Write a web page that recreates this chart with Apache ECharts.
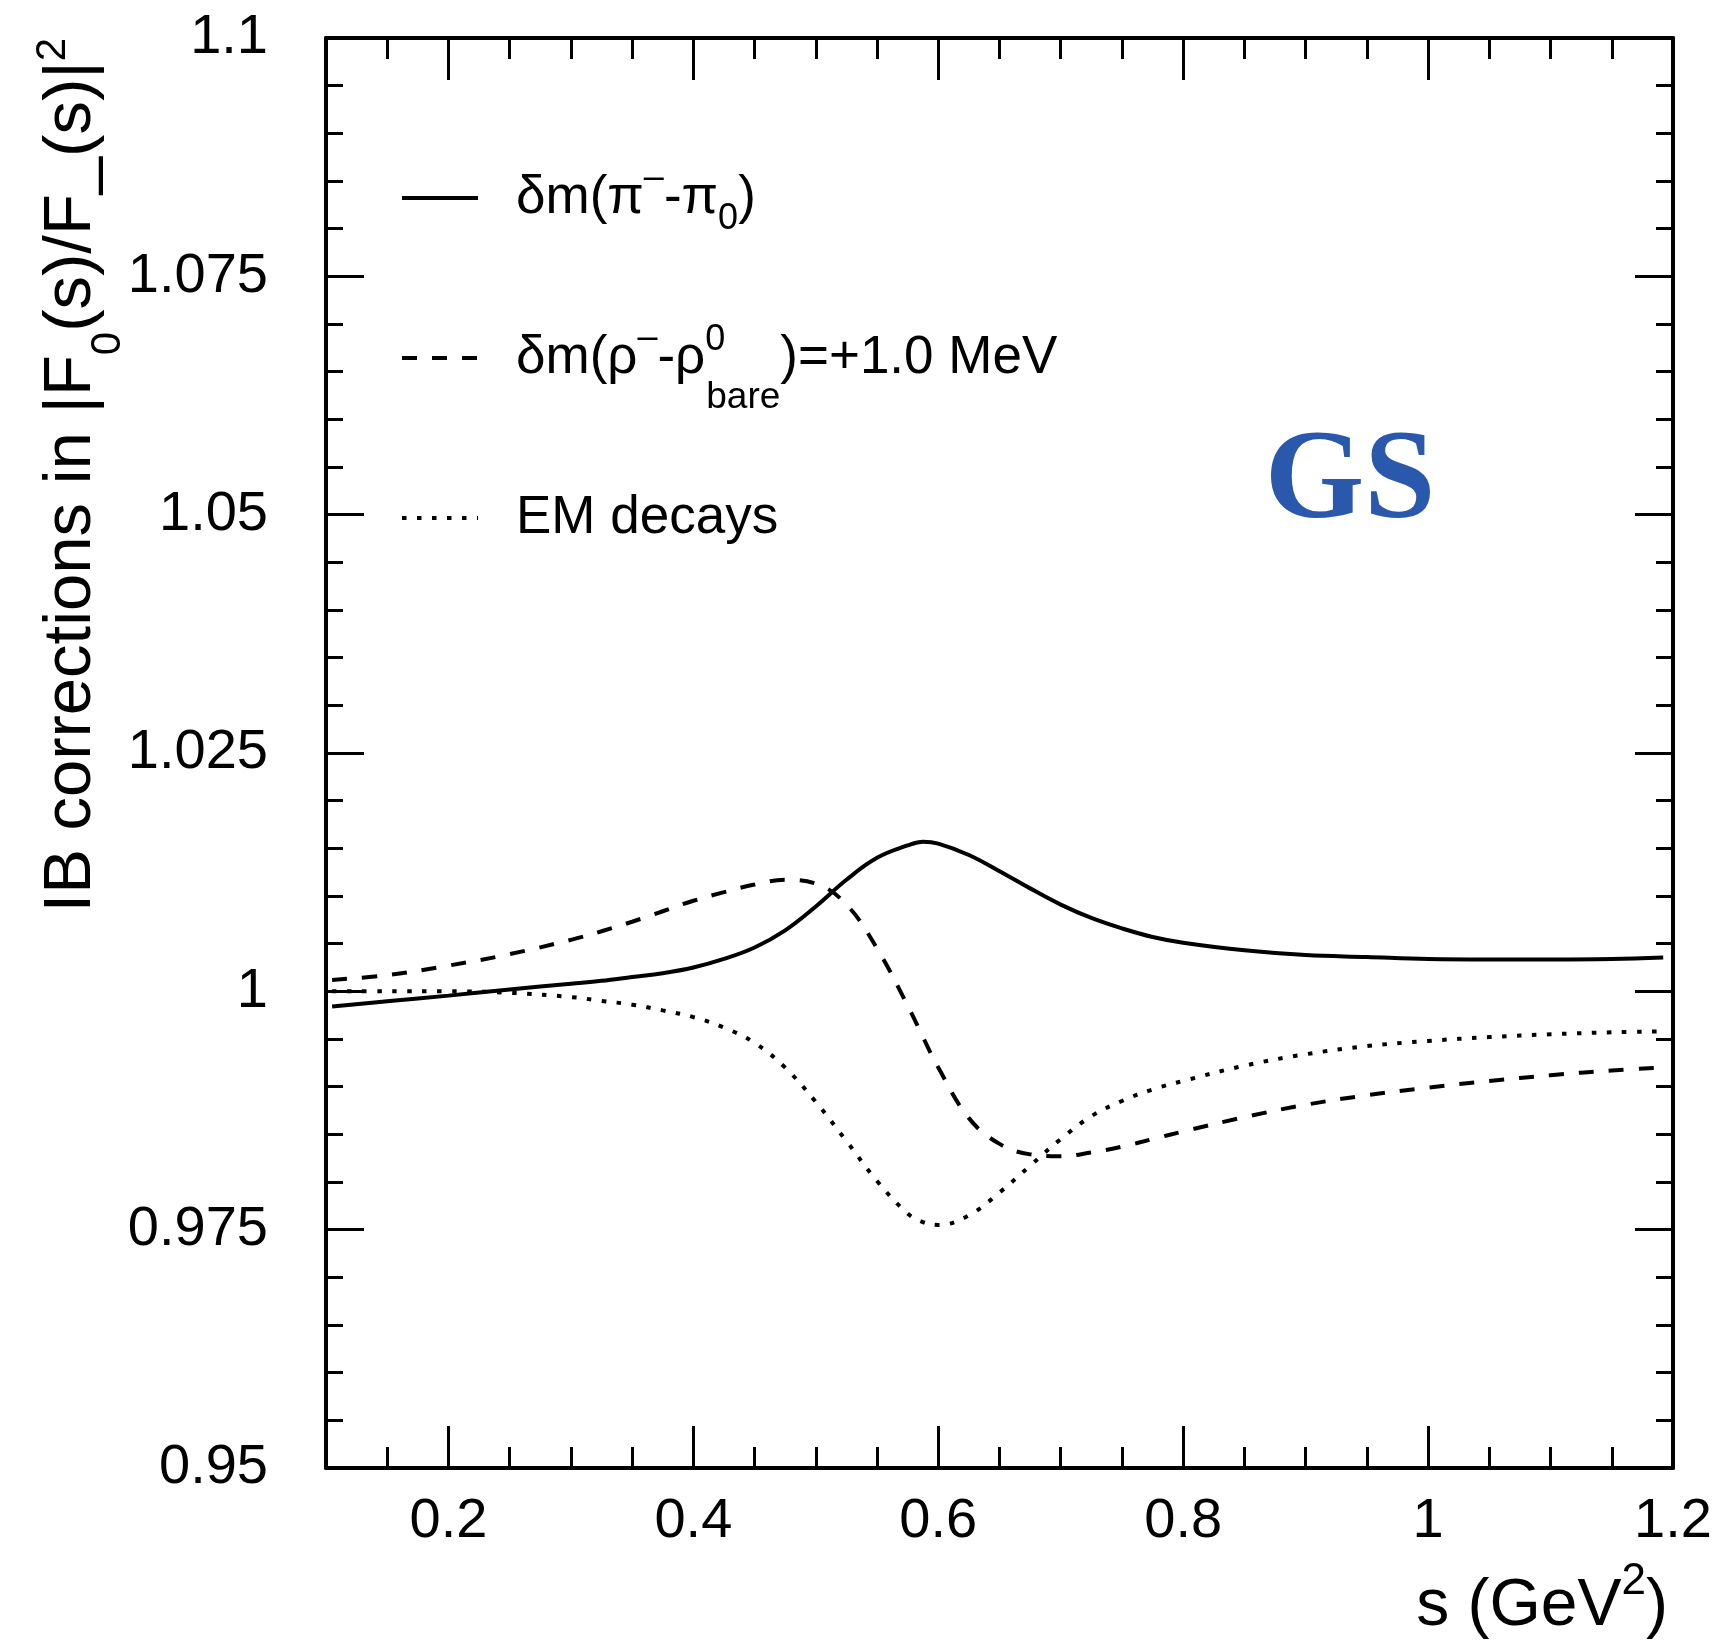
<!DOCTYPE html>
<html>
<head>
<meta charset="utf-8">
<title>IB corrections</title>
<script src="https://cdn.jsdelivr.net/npm/echarts@6/dist/echarts.min.js"></script>
<style>
  html, body { margin: 0; padding: 0; background: #ffffff; }
  #chart { width: 1720px; height: 1649px; }
</style>
</head>
<body>
<div id="chart"></div>
<script>
// s values (GeV^2) where the three corrections are sampled
const sValues = [0.105, 0.15, 0.2, 0.25, 0.3, 0.325, 0.35, 0.375, 0.4, 0.425, 0.45, 0.475, 0.5, 0.525, 0.55,
                 0.575, 0.5875, 0.6, 0.625, 0.65, 0.675, 0.7, 0.725, 0.75, 0.775, 0.8, 0.85, 0.9, 0.95, 1.0,
                 1.05, 1.1, 1.15, 1.192];

// pion mass difference
const piMassShift = [0.9984, 0.99895, 0.99955, 1.0002, 1.0008, 1.0011, 1.0015, 1.0019, 1.0025, 1.0034, 1.0046,
                     1.0064, 1.0089, 1.0117, 1.0140, 1.0153, 1.0157, 1.0155, 1.0143, 1.0126, 1.0108, 1.0091,
                     1.0077, 1.0066, 1.0057, 1.0051, 1.0043, 1.0038, 1.0036, 1.0034, 1.00335, 1.00335, 1.0034,
                     1.00355];

// rho mass difference, +1.0 MeV
const rhoMassShift = [1.0012, 1.0017, 1.0027, 1.0039, 1.0054, 1.0063, 1.0073, 1.0084, 1.0095, 1.0104, 1.0112,
                      1.0117, 1.0113, 1.0091, 1.0045, 0.9985, 0.9952, 0.9920, 0.9867, 0.9840, 0.9829, 0.9827,
                      0.9831, 0.9837, 0.9845, 0.9853, 0.9868, 0.9881, 0.9891, 0.9899, 0.9906, 0.9912, 0.9917,
                      0.9920];

// electromagnetic decays
const emDecays = [1.0000, 1.0000, 1.0000, 0.99985, 0.9994, 0.9990, 0.9986, 0.9980, 0.9973, 0.9962, 0.9946,
                  0.9920, 0.9884, 0.9843, 0.9801, 0.9767, 0.9758, 0.9755, 0.9765, 0.9789, 0.9817, 0.9845,
                  0.9869, 0.9885, 0.9897, 0.9906, 0.9922, 0.9934, 0.99425, 0.9948, 0.9952, 0.9955, 0.9957,
                  0.9958];

// axis ticks and their labels
const xMajorTicks = [0.2, 0.4, 0.6, 0.8, 1.0, 1.2];
const xTickLabels = ['0.2', '0.4', '0.6', '0.8', '1', '1.2'];
const xMinorTicks = [0.15, 0.25, 0.3, 0.35, 0.45, 0.5, 0.55, 0.65, 0.7, 0.75, 0.85, 0.9, 0.95, 1.05, 1.1, 1.15];
const yMajorTicks = [0.95, 0.975, 1.0, 1.025, 1.05, 1.075, 1.1];
const yTickLabels = ['0.95', '0.975', '1', '1.025', '1.05', '1.075', '1.1'];
const yMinorTicks = [0.955, 0.96, 0.965, 0.97, 0.98, 0.985, 0.99, 0.995, 1.005, 1.01, 1.015, 1.02,
                     1.03, 1.035, 1.04, 1.045, 1.055, 1.06, 1.065, 1.07, 1.08, 1.085, 1.09, 1.095];

// series names and their legend captions
const seriesNames = ['dm_pi', 'dm_rho', 'em'];
const legendCaptions = {
  dm_pi: '{sp| }δm(π{sup|–}-π{sub|0})',
  dm_rho: '{sp| }δm(ρ{sup|–}-ρ{supz|0}{bare|bare})=+1.0 MeV',
  em: '{sp| }EM decays'
};

const FONT = '"Liberation Sans", Arial, Helvetica, sans-serif';
const SERIF = '"Liberation Serif", "Times New Roman", serif';

function labelFor(ticks, labels) {
  return function (v) {
    for (let i = 0; i < ticks.length; i++) {
      if (Math.abs(ticks[i] - v) < 1e-9) return labels[i];
    }
    return '';
  };
}

function pairs(ys) {
  return sValues.map((s, i) => [s, ys[i]]);
}

const X_MIN = 0.1, X_MAX = 1.2, Y_MIN = 0.95, Y_MAX = 1.1;

function xAxisDef(position, ticks, len, withLine, withLabels) {
  return {
    type: 'value', position: position, min: X_MIN, max: X_MAX, gridIndex: 0,
    axisLine: { show: withLine, onZero: false, lineStyle: { color: '#000', width: 4 } },
    axisTick: { show: true, inside: true, length: len, customValues: ticks, lineStyle: { color: '#000', width: 3 } },
    axisLabel: withLabels ? {
      show: true, customValues: xMajorTicks, margin: 26, color: '#000',
      fontFamily: FONT, fontSize: 56, formatter: labelFor(xMajorTicks, xTickLabels)
    } : { show: false },
    splitLine: { show: false }
  };
}

function yAxisDef(position, ticks, len, withLine, withLabels) {
  return {
    type: 'value', position: position, min: Y_MIN, max: Y_MAX, gridIndex: 0,
    axisLine: { show: withLine, onZero: false, lineStyle: { color: '#000', width: 4 } },
    axisTick: { show: true, inside: true, length: len, customValues: ticks, lineStyle: { color: '#000', width: 3 } },
    axisLabel: withLabels ? {
      show: true, customValues: yMajorTicks, margin: 58, color: '#000',
      fontFamily: FONT, fontSize: 56, formatter: labelFor(yMajorTicks, yTickLabels)
    } : { show: false },
    splitLine: { show: false }
  };
}

const chart = echarts.init(document.getElementById('chart'), null, { renderer: 'canvas' });

const lineBase = { color: '#000', width: 4 };

chart.setOption({
  animation: false,
  backgroundColor: '#ffffff',
  color: ['#000', '#000', '#000'],
  grid: { left: 326, right: 47, top: 38, bottom: 181, containLabel: false },
  xAxis: [
    xAxisDef('bottom', xMajorTicks, 42, true, true),
    xAxisDef('bottom', xMinorTicks, 21, false, false),
    xAxisDef('top', xMajorTicks, 42, true, false),
    xAxisDef('top', xMinorTicks, 21, false, false)
  ],
  yAxis: [
    yAxisDef('left', yMajorTicks, 38, true, true),
    yAxisDef('left', yMinorTicks, 17, false, false),
    yAxisDef('right', yMajorTicks, 38, true, false),
    yAxisDef('right', yMinorTicks, 17, false, false)
  ],
  legend: {
    orient: 'vertical',
    left: 400,
    top: 138,
    padding: 0,
    itemWidth: 76,
    itemHeight: 14,
    itemGap: 40,
    selectedMode: false,
    data: seriesNames,
    formatter: name => legendCaptions[name],
    itemStyle: { opacity: 0 },
    lineStyle: { width: 4 },
    textStyle: {
      color: '#000', fontFamily: FONT, fontSize: 53, lineHeight: 120,
      rich: {
        sp: { width: 33, fontFamily: FONT, fontSize: 53, lineHeight: 120 },
        sup: { fontFamily: FONT, fontSize: 36, lineHeight: 36, padding: [0, 0, 40, 0] },
        sub: { fontFamily: FONT, fontSize: 36, lineHeight: 36, padding: [42, 0, 0, 0] },
        supz: { fontFamily: FONT, fontSize: 36, lineHeight: 36, width: 1, padding: [0, 0, 36, 0] },
        bare: { fontFamily: FONT, fontSize: 37, lineHeight: 37, padding: [80, 0, 0, 0] }
      }
    }
  },
  graphic: [
    {
      type: 'text', x: 72, y: 38, rotation: Math.PI / 2, silent: true,
      style: {
        text: 'IB corrections in |F{sub|0}(s)/F_(s)|{sup|2}',
        fontFamily: FONT, fontSize: 67, fill: '#000', align: 'right', verticalAlign: 'middle',
        lineHeight: 140,
        rich: {
          sub: { fontFamily: FONT, fontSize: 42, lineHeight: 42, fill: '#000', padding: [72, 0, 0, 0] },
          sup: { fontFamily: FONT, fontSize: 42, lineHeight: 42, fill: '#000', padding: [0, 0, 38, 0] }
        }
      }
    },
    {
      type: 'text', x: 1668, y: 1607, silent: true,
      style: {
        text: 's (GeV{sup|2})',
        fontFamily: FONT, fontSize: 66, fill: '#000', align: 'right', verticalAlign: 'middle',
        lineHeight: 120,
        rich: {
          sup: { fontFamily: FONT, fontSize: 44, lineHeight: 44, fill: '#000', padding: [0, 0, 50, 0] }
        }
      }
    },
    {
      type: 'text', x: 1350, y: 484, silent: true,
      style: {
        text: 'GS',
        fontFamily: SERIF, fontWeight: 'bold', fontSize: 128, fill: '#2a58ad',
        align: 'center', verticalAlign: 'middle'
      }
    }
  ],
  series: [
    {
      name: 'dm_pi', type: 'line', xAxisIndex: 0, yAxisIndex: 0,
      data: pairs(piMassShift), symbol: 'none', showSymbol: false,
      smooth: 0.4, clip: true,
      itemStyle: { color: '#000' },
      lineStyle: Object.assign({}, lineBase, { type: 'solid' })
    },
    {
      name: 'dm_rho', type: 'line', xAxisIndex: 0, yAxisIndex: 0,
      data: pairs(rhoMassShift), symbol: 'none', showSymbol: false,
      smooth: 0.4, clip: true,
      itemStyle: { color: '#000' },
      lineStyle: Object.assign({}, lineBase, { type: [15, 15], cap: 'butt' })
    },
    {
      name: 'em', type: 'line', xAxisIndex: 0, yAxisIndex: 0,
      data: pairs(emDecays), symbol: 'none', showSymbol: false,
      smooth: 0.4, clip: true,
      itemStyle: { color: '#000' },
      lineStyle: Object.assign({}, lineBase, { type: [4.5, 10.5], cap: 'butt' })
    }
  ]
});
</script>
</body>
</html>
